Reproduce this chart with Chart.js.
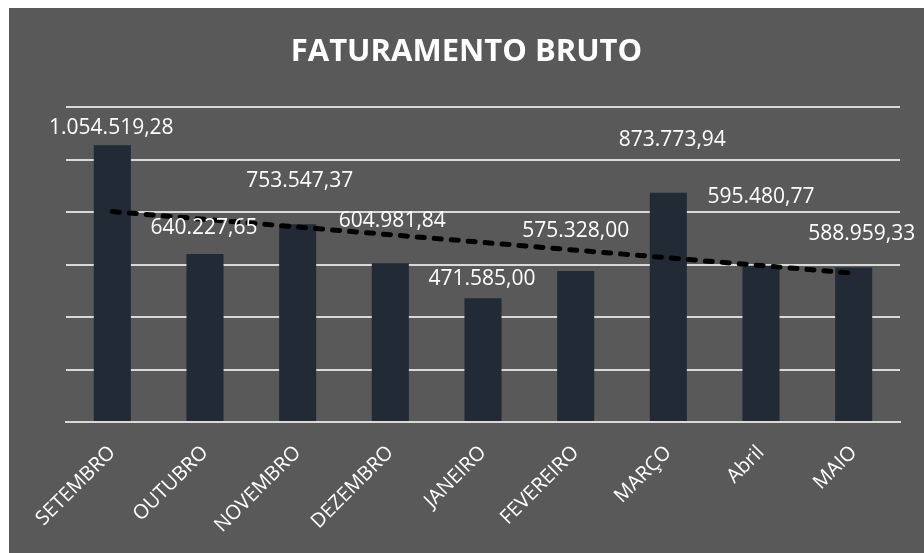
<!DOCTYPE html>
<html>
<head>
<meta charset="utf-8">
<script src="https://cdn.jsdelivr.net/npm/chart.js@4"></script>
<style>
  html, body { margin: 0; padding: 0; background: #ffffff; }
  #wrap { position: absolute; left: 9px; top: 8px; width: 915px; height: 545px; background: #595959; }
</style>
</head>
<body>
<div id="wrap"><canvas id="graph-bar"></canvas></div>
<script>
const months = ['SETEMBRO', 'OUTUBRO', 'NOVEMBRO', 'DEZEMBRO', 'JANEIRO', 'FEVEREIRO', 'MARÇO', 'Abril', 'MAIO']
const faturamento = [1054519.28, 640227.65, 753547.37, 604981.84, 471585.00, 575328.00, 873773.94, 595480.77, 588959.33]
// trend line, ends
const tendencia = [802000, null, null, null, null, null, null, null, 567000]
// where each value label sits relative to the top of its bar (px)
const labelShift = [[-1, -17], [-1, -26], [2, -43], [2, -42], [-1, -19], [0, -40], [4, -53], [0, -69], [8, -33]]

function fmt(v) {
  let parts = v.toFixed(2).split('.')
  let int = parts[0].replace(/\B(?=(\d{3})+(?!\d))/g, '.')
  return int + ',' + parts[1]
}

const valueLabels = {
  id: 'valueLabels',
  afterDatasetsDraw(chart) {
    const ctx = chart.ctx
    const meta = chart.getDatasetMeta(1)
    ctx.save()
    ctx.font = '21px "Open Sans"'
    ctx.fillStyle = '#ffffff'
    ctx.textAlign = 'center'
    ctx.textBaseline = 'middle'
    meta.data.forEach((bar, i) => {
      ctx.fillText(fmt(faturamento[i]), bar.x + labelShift[i][0], bar.y + labelShift[i][1])
    })
    ctx.restore()
  }
}

const data = {
  labels: months,
  datasets: [{
    type: 'line',
    data: tendencia,
    spanGaps: true,
    borderColor: '#000000',
    borderWidth: 5,
    borderDash: [7, 10],
    borderCapStyle: 'round',
    pointRadius: 0,
    order: 0
  }, {
    type: 'bar',
    label: 'Faturamento bruto',
    data: faturamento,
    backgroundColor: '#222a35',
    barPercentage: 0.4,
    categoryPercentage: 1,
    order: 1
  }]
}

const config = {
  data: data,
  options: {
    responsive: true,
    maintainAspectRatio: false,
    animation: false,
    layout: { padding: { left: 24, right: 24, top: 0, bottom: 0 } },
    plugins: {
      legend: { display: false },
      tooltip: { enabled: false },
      title: {
        display: true,
        text: 'FATURAMENTO BRUTO',
        color: '#ffffff',
        font: { family: 'Open Sans', size: 31, weight: 'bold', lineHeight: 1.2 },
        padding: { top: 26, bottom: 36 }
      }
    },
    scales: {
      x: {
        grid: { display: false, drawTicks: false },
        border: { color: '#d9d9d9', width: 2 },
        ticks: {
          color: '#ffffff',
          font: { family: 'Open Sans', size: 20 },
          maxRotation: 45,
          minRotation: 45,
          padding: 19
        },
        afterFit(scale) { scale.height = 131 }
      },
      y: {
        min: 0,
        max: 1200000,
        ticks: { display: false, stepSize: 200000 },
        border: { display: false },
        grid: { color: '#d9d9d9', lineWidth: 2, drawTicks: false },
        afterFit(scale) { scale.width = 33 }
      }
    }
  },
  plugins: [valueLabels]
}

let chart = new Chart(document.querySelector('#graph-bar'), config)
</script>
</body>
</html>
